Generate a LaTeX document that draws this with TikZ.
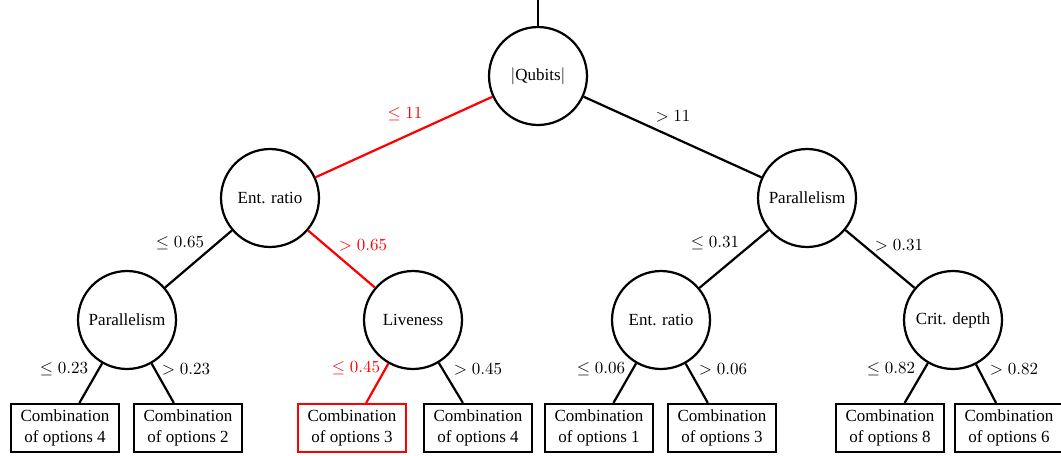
\documentclass[tikz,border=0pt]{standalone}
\usepackage{fontspec}
\setmainfont{Liberation Serif}
\begin{document}
\begin{tikzpicture}[x=0.588pt,y=-0.588pt,
  every node/.style={font=\fontsize{10pt}{12pt}\selectfont},
  dec/.style={circle,draw,line width=1.3pt,minimum size=57.6pt,inner sep=0pt},
  leaf/.style={draw,line width=1.3pt,minimum width=63.5pt,minimum height=28.2pt,align=center,inner sep=1pt},
  hot/.style={draw=red},
  conn/.style={line width=1.3pt},
  hotconn/.style={line width=1.3pt,red},
  lab/.style={inner sep=0pt},
  hotlab/.style={inner sep=0pt,text=red}]
\useasboundingbox (0,0) rectangle (1061,455);
\coordinate (top) at (538,0);
\node[dec] (root) at (538,76) {$|$Qubits$|$};
\node[dec] (er1) at (270,198) {Ent. ratio};
\node[dec] (pa1) at (807,198) {Parallelism};
\node[dec] (pa2) at (127,320) {Parallelism};
\node[dec] (li) at (413,320) {Liveness};
\node[dec] (er2) at (661,320) {Ent. ratio};
\node[dec] (cd) at (953,320) {Crit. depth};
\node[leaf] (c1) at (65,428) {Combination\\of options 4};
\node[leaf] (c2) at (188,428) {Combination\\of options 2};
\node[leaf,hot] (c3) at (352,428) {Combination\\of options 3};
\node[leaf] (c4) at (478,428) {Combination\\of options 4};
\node[leaf] (c5) at (599,428) {Combination\\of options 1};
\node[leaf] (c6) at (722,428) {Combination\\of options 3};
\node[leaf] (c7) at (890,428) {Combination\\of options 8};
\node[leaf] (c8) at (1009,428) {Combination\\of options 6};
\draw[conn] (top) -- (root);
\draw[hotconn] (root) -- (er1);
\draw[conn] (root) -- (pa1);
\draw[conn] (er1) -- (pa2);
\draw[hotconn] (er1) -- (li);
\draw[conn] (pa1) -- (er2);
\draw[conn] (pa1) -- (cd);
\draw[conn] (pa2) -- (c1);
\draw[conn] (pa2) -- (c2);
\draw[hotconn] (li) -- (c3);
\draw[conn] (li) -- (c4);
\draw[conn] (er2) -- (c5);
\draw[conn] (er2) -- (c6);
\draw[conn] (cd) -- (c7);
\draw[conn] (cd) -- (c8);
\node[hotlab] (l1) at (405,114) {$\leq 11$};
\node[lab] (l2) at (673,116) {$> 11$};
\node[lab] (l3) at (180,243) {$\leq 0.65$};
\node[hotlab] (l4) at (363,245) {$> 0.65$};
\node[lab] (l5) at (715,243) {$\leq 0.31$};
\node[lab] (l6) at (899,245) {$> 0.31$};
\node[lab] (l7) at (64,369) {$\leq 0.23$};
\node[lab] (l8) at (186,369) {$> 0.23$};
\node[hotlab] (l9) at (356,368) {$\leq 0.45$};
\node[lab] (l10) at (478,369) {$> 0.45$};
\node[lab] (l11) at (601,369) {$\leq 0.06$};
\node[lab] (l12) at (723,369) {$> 0.06$};
\node[lab] (l13) at (891,369) {$\leq 0.82$};
\node[lab] (l14) at (1014,369) {$> 0.82$};
\end{tikzpicture}
\end{document}
